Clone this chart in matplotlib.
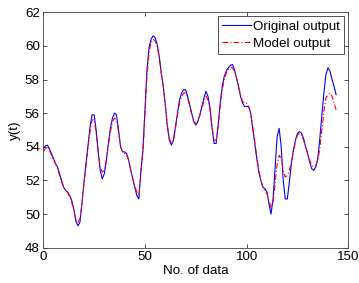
import numpy as np
import matplotlib
matplotlib.use('Agg')
import matplotlib.pyplot as plt

plt.rcParams['font.family'] = ['Liberation Sans', 'DejaVu Sans']

# original system output, one value per data index 0..144
original = [53.9, 54.05, 54.1, 53.9, 53.6, 53.3, 53.0, 52.8, 52.4, 52.0,
            51.6, 51.4, 51.3, 51.1, 50.8, 50.3, 49.6, 49.3, 49.5, 50.6,
            51.9, 53.0, 54.1, 55.2, 55.9, 55.9, 55.0, 53.7, 52.6, 52.1,
            52.4, 53.2, 54.2, 55.1, 55.7, 56.0, 55.9, 55.0, 54.0, 53.7,
            53.7, 53.6, 53.2, 52.6, 52.1, 51.6, 51.1, 50.9, 52.6, 53.8,
            56.2, 58.6, 59.9, 60.4, 60.6, 60.5, 60.1, 59.4, 58.4, 57.6,
            56.5, 55.2, 54.4, 54.1, 54.4, 55.2, 56.0, 56.8, 57.2, 57.4,
            57.4, 57.0, 56.5, 56.0, 55.5, 55.3, 55.5, 55.9, 56.4, 56.9,
            57.3, 57.0, 56.3, 55.1, 54.2, 54.2, 55.3, 56.6, 57.6, 58.2,
            58.5, 58.7, 58.85, 58.9, 58.6, 58.1, 57.6, 57.0, 56.6, 56.4,
            56.4, 56.4, 56.0, 55.1, 54.2, 53.3, 52.5, 52.0, 51.6, 51.5,
            51.3, 50.6, 50.0, 50.9, 52.8, 54.6, 55.1, 54.0, 52.0, 50.9,
            50.9, 51.9, 53.0, 53.8, 54.4, 54.8, 54.9, 54.8, 54.5, 54.0,
            53.6, 53.1, 52.7, 52.6, 52.8, 53.3, 54.5, 55.9, 57.2, 58.3,
            58.7, 58.5, 58.0, 57.6, 57.1]

# model output, same indices
model = [53.7, 53.9, 54.0, 53.8, 53.5, 53.2, 53.0, 52.7, 52.3, 51.9,
         51.6, 51.4, 51.3, 51.0, 50.7, 50.2, 49.7, 49.5, 49.7, 50.6,
         51.8, 52.9, 53.9, 54.9, 55.6, 55.6, 54.8, 53.7, 52.8, 52.5,
         52.6, 53.2, 54.1, 54.9, 55.5, 55.7, 55.6, 54.9, 54.0, 53.7,
         53.6, 53.5, 53.2, 52.6, 52.1, 51.7, 51.3, 51.1, 52.4, 53.7,
         55.9, 58.2, 59.6, 60.2, 60.4, 60.3, 60.0, 59.3, 58.4, 57.6,
         56.5, 55.3, 54.5, 54.2, 54.4, 55.1, 55.9, 56.6, 57.0, 57.2,
         57.2, 56.9, 56.4, 55.9, 55.5, 55.4, 55.5, 55.9, 56.3, 56.7,
         57.0, 56.8, 56.2, 55.2, 54.4, 54.4, 55.2, 56.4, 57.4, 58.0,
         58.4, 58.6, 58.7, 58.7, 58.5, 58.1, 57.6, 57.1, 56.7, 56.6,
         56.6, 56.4, 56.0, 55.2, 54.3, 53.4, 52.6, 52.0, 51.6, 51.4,
         51.2, 50.8, 50.4, 50.7, 51.8, 53.0, 53.5, 53.3, 52.6, 52.2,
         52.3, 52.6, 53.1, 53.7, 54.3, 54.7, 54.8, 54.7, 54.4, 54.0,
         53.6, 53.2, 52.9, 52.8, 52.9, 53.2, 53.9, 55.0, 56.1, 56.9,
         57.1, 57.2, 57.0, 56.6, 56.2]

x = np.arange(len(original))
fs = 9.6

fig = plt.figure(figsize=(3.59, 2.83), dpi=100)
ax = fig.add_axes([0.1206, 0.1247, 0.8496, 0.8318])

ax.plot(x, original, color='#0000ff', lw=0.8, label='Original output')
ax.plot(x, model, color='#ff0000', lw=0.8, dashes=[5, 2, 1, 2], label='Model output')

ax.set_xlim(0, 150)
ax.set_ylim(48, 62)
ax.set_xticks([0, 50, 100, 150])
ax.set_yticks(np.arange(48, 63, 2))
ax.tick_params(direction='in', top=True, right=True, labelsize=fs, length=3, width=0.6,
               pad=2.5, colors='#333333', labelcolor='black')
for s in ax.spines.values():
    s.set_linewidth(0.6)
    s.set_color('#444444')

ax.set_xlabel('No. of data', fontsize=fs, labelpad=1)
ax.set_ylabel('y(t)', fontsize=fs, labelpad=3)

leg = ax.legend(loc='upper right', fontsize=fs, fancybox=False, framealpha=1,
                edgecolor='#333333', borderaxespad=0.3, handlelength=2.15,
                handletextpad=0.2, borderpad=0.3, labelspacing=0.35)
leg.get_frame().set_linewidth(0.6)

fig.savefig('out.png', dpi=100)
